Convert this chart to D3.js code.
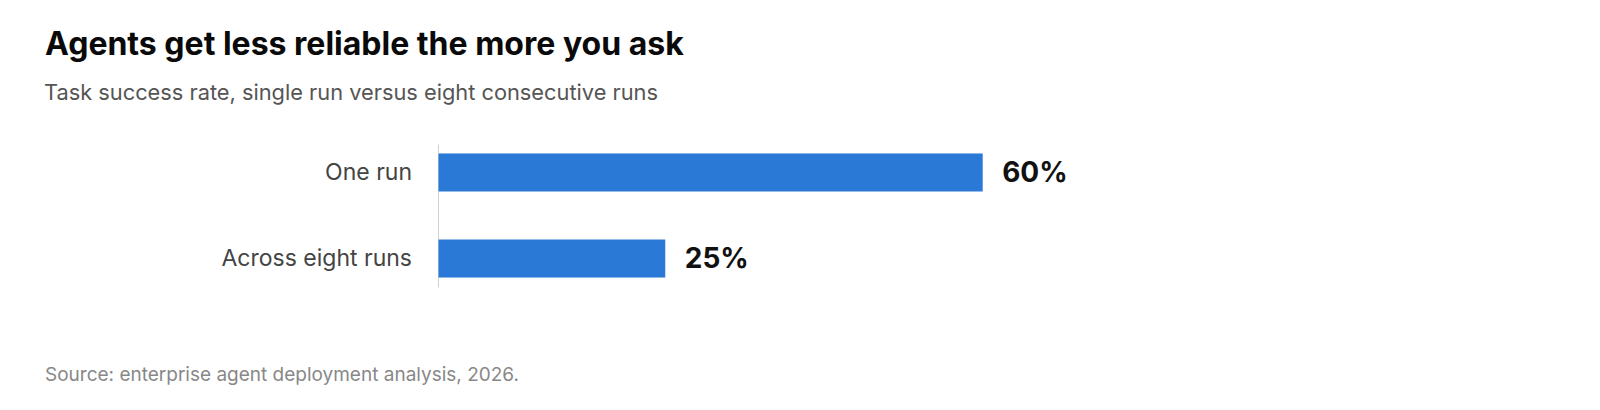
<!DOCTYPE html>
<html>
<head>
<meta charset="utf-8">
<script src="https://cdn.jsdelivr.net/npm/d3@7"></script>
<style>
  body { margin: 0; background: #fff; font-family: Inter, "Noto Sans", sans-serif; }
</style>
</head>
<body>
<div id="chart"></div>
<script>
// Data
var categories = ["One run", "Across eight runs"];
var values = [60, 25];
var valueLabels = ["60%", "25%"];

var width = 1600, height = 410;

var svg = d3.select("#chart")
  .append("svg")
    .attr("width", width)
    .attr("height", height);

// Title + subtitle
svg.append("text")
  .attr("x", 45)
  .attr("y", 55)
  .attr("font-size", 32)
  .attr("font-weight", 700)
  .attr("fill", "#0a0a0a")
  .text("Agents get less reliable the more you ask");

svg.append("text")
  .attr("x", 44)
  .attr("y", 100)
  .attr("font-size", 21.8)
  .attr("fill", "#555")
  .text("Task success rate, single run versus eight consecutive runs");

// Scales
var x = d3.scaleLinear()
  .domain([0, 100])
  .range([438, 1345]);

var y = d3.scaleBand()
  .domain(categories)
  .range([144, 287])
  .paddingInner(0.558)
  .paddingOuter(0.11);

// Y axis (line + category labels)
var yAxis = svg.append("g")
  .attr("transform", "translate(" + x(0) + ",0)")
  .call(d3.axisLeft(y).tickSize(0).tickPadding(26));
yAxis.select(".domain").attr("stroke", "#d0d0d0").attr("stroke-width", 1);
yAxis.selectAll("text")
  .attr("font-family", "Inter, 'Noto Sans', sans-serif")
  .attr("font-size", 23)
  .attr("fill", "#444");

// Bars
svg.selectAll("mybar")
  .data(categories)
  .enter()
  .append("rect")
    .attr("x", x(0) + 0.5)
    .attr("y", function(d) { return y(d); })
    .attr("width", function(d, i) { return x(values[i]) - x(0); })
    .attr("height", y.bandwidth())
    .attr("fill", "#2b79d6");

// Value labels
svg.selectAll("vlabel")
  .data(categories)
  .enter()
  .append("text")
    .attr("x", function(d, i) { return x(values[i]) + 20; })
    .attr("y", function(d) { return y(d) + y.bandwidth() / 2; })
    .attr("dy", "0.35em")
    .attr("font-size", 28)
    .attr("font-weight", 700)
    .attr("fill", "#111")
    .text(function(d, i) { return valueLabels[i]; });

// Source
svg.append("text")
  .attr("x", 45)
  .attr("y", 381)
  .attr("font-size", 19)
  .attr("fill", "#888")
  .text("Source: enterprise agent deployment analysis, 2026.");
</script>
</body>
</html>
